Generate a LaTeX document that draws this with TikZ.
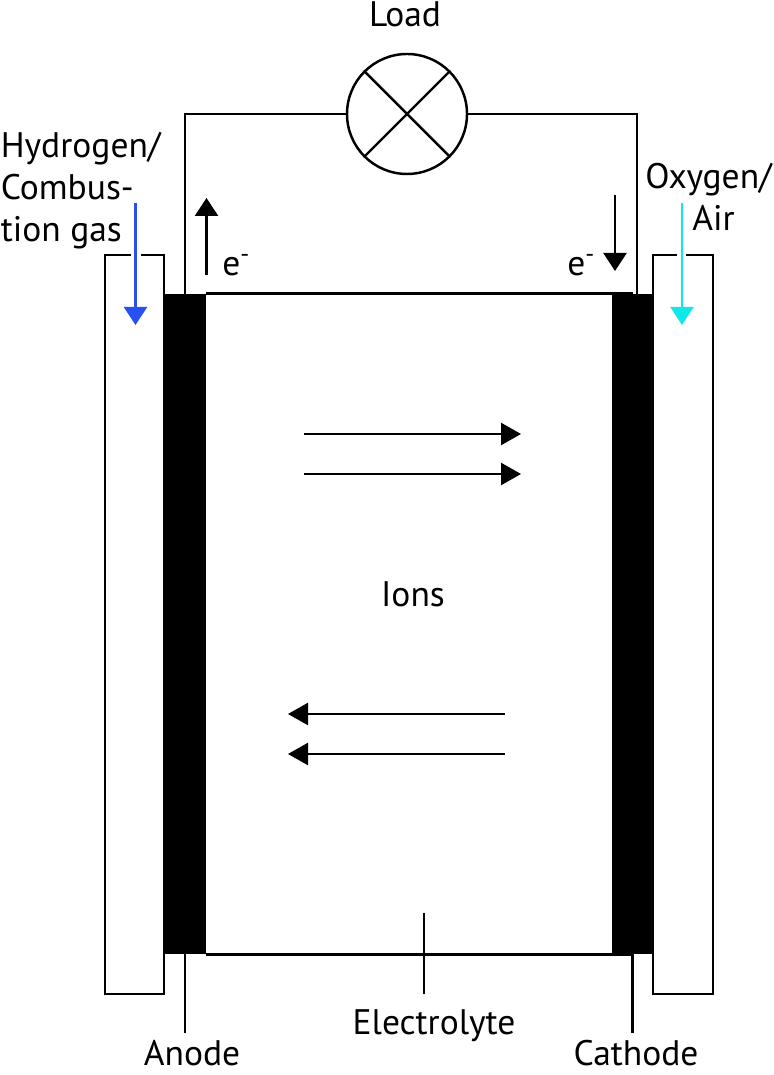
\documentclass[tikz,border=0pt]{standalone}
\usepackage{fontspec}
\setmainfont{PT Sans}
\usetikzlibrary{arrows.meta,calc,positioning}

\begin{document}
\begin{tikzpicture}[
  wire/.style={draw, line width=1.4pt},
  electrode/.style={fill=black, inner sep=0pt, minimum width=0.84cm, minimum height=13.2cm},
  lamp/.style={wire, circle, inner sep=0pt, minimum size=2.4cm},
  lbl/.style={inner sep=0pt, font=\fontsize{20.2}{23.9}\selectfont},
  arr/.style={line width=1.4pt, -{Triangle[length=0.4cm,width=0.44cm]}},
  elec/.style={line width=1.4pt, -{Triangle[length=0.36cm,width=0.46cm]}},
  hydro/.style={elec, color={rgb,255:red,40;green,80;blue,240}},
  oxy/.style={elec, color={rgb,255:red,16;green,232;blue,232}}
]
\useasboundingbox (0,0) rectangle (15.48,21.5);

\node[electrode] (anode) at (3.70,9.02) {};
\node[electrode] (cathode) at (12.65,9.02) {};
\node[lamp] (load) at (8.14,19.22) {};
\coordinate (cathodetop) at (12.74,15.62);

% external circuit
\draw[wire] (load.west) -| (anode.north);
\draw[wire] (load.east) -| (cathodetop);
\draw[wire] (load.45) -- (load.225);
\draw[wire] (load.135) -- (load.-45);
\draw[wire] (anode.north east) -- (cathode.north);
\draw[wire] (anode.south east) -- (cathode.south);

% gas channels
\draw[wire] (2.62,16.4) -- (2.10,16.4) -- (2.10,1.62) -- (3.28,1.62) -- (3.28,15.62);
\draw[wire] (2.82,16.4) -- (3.28,16.4) -- (3.28,15.62);
\draw[wire] (13.54,16.4) -- (13.06,16.4) -- (13.06,1.62) -- (14.26,1.62) -- (14.26,16.4) -- (13.72,16.4);

% labels
\node[lbl, anchor=base] (loadlbl) at (8.10,20.96) {Load};
\node[lbl, align=left, anchor=north west] (hydrogen) at (0.01,18.86) {Hydrogen/\\Combus-\\tion gas};
\node[lbl, align=center, anchor=north] (oxygen) at (14.17,18.24) {Oxygen/\\\hspace{0.2cm}Air};
\node[lbl] (ions) at (8.26,9.62) {Ions};
\node[lbl, anchor=base] (electrolyte) at (8.68,0.8) {Electrolyte};
\node[lbl, anchor=base] (anodelbl) at (3.84,0.2) {Anode};
\node[lbl, anchor=base] (cathodelbl) at (12.72,0.2) {Cathode};
\node[lbl, anchor=base west] (eleft) at (4.44,15.98) {e\textsuperscript{-}};
\node[lbl, anchor=base west] (eright) at (11.34,15.98) {e\textsuperscript{-}};

% gas flow
\coordinate (hydrogenin) at (2.71,17.44);
\coordinate (hydrogenout) at (2.71,15.0);
\coordinate (oxygenin) at (13.64,17.44);
\coordinate (oxygenout) at (13.64,15.0);
\draw[hydro] (hydrogenin) -- (hydrogenout);
\draw[oxy] (oxygenin) -- (oxygenout);

% electrons
\coordinate (eupa) at (4.13,16);
\coordinate (eupb) at (4.13,17.54);
\coordinate (edowna) at (12.3,17.6);
\coordinate (edownb) at (12.3,16.08);
\draw[elec] (eupa) -- (eupb);
\draw[elec] (edowna) -- (edownb);

% ions
\coordinate (ionaa) at (6.08,12.82);
\coordinate (ionab) at (10.42,12.82);
\coordinate (ionba) at (6.08,12.02);
\coordinate (ionbb) at (10.42,12.02);
\coordinate (ionca) at (10.10,7.22);
\coordinate (ioncb) at (5.76,7.22);
\coordinate (iondA) at (10.10,6.42);
\coordinate (iondB) at (5.76,6.42);
\draw[arr] (ionaa) -- (ionab);
\draw[arr] (ionba) -- (ionbb);
\draw[arr] (ionca) -- (ioncb);
\draw[arr] (iondA) -- (iondB);

% leaders
\coordinate (anodeend) at (3.70,0.84);
\coordinate (cathodeend) at (12.65,0.84);
\coordinate (electrolytea) at (8.48,3.24);
\coordinate (electrolyteb) at (8.48,1.62);
\draw[wire] (anode.south) -- (anodeend);
\draw[wire] (cathode.south) -- (cathodeend);
\draw[wire] (electrolytea) -- (electrolyteb);
\end{tikzpicture}
\end{document}
